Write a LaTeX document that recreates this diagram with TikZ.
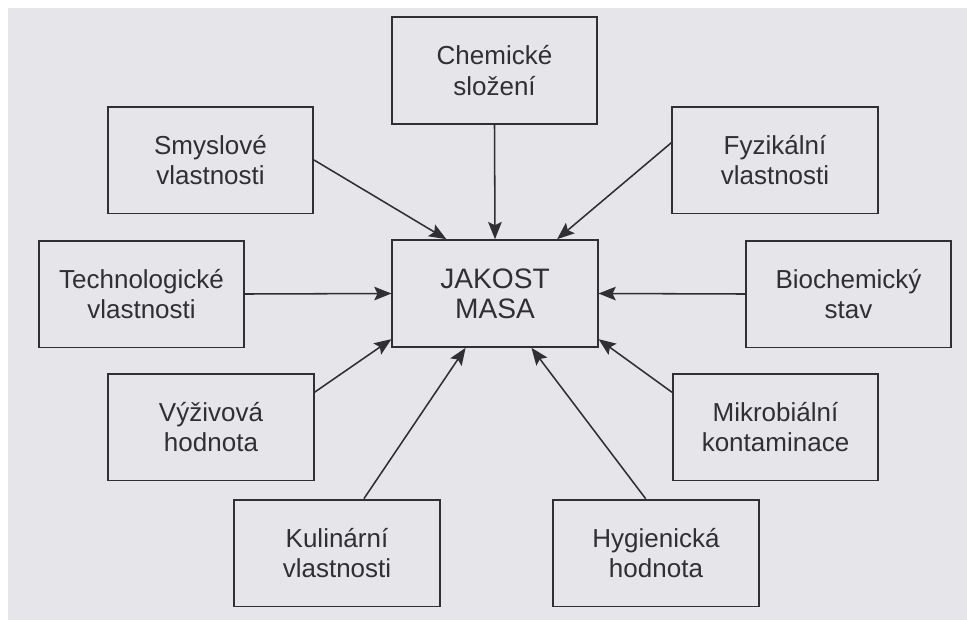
\documentclass[tikz,border=0pt]{standalone}
\usepackage{fontspec}
\setmainfont{Liberation Sans}
\usetikzlibrary{arrows.meta,calc}
\definecolor{paper}{RGB}{229,229,234}
\definecolor{ink}{RGB}{48,48,50}
\tikzset{
	box/.style={draw=ink, line width=1.3pt, minimum width=5.13cm, minimum height=2.67cm,
		inner sep=0pt, align=center, text=ink, font=\fontsize{18.5}{21.5}\selectfont},
	arr/.style={draw=ink, line width=1.1pt, -{Stealth[length=4.3mm,width=3.4mm,inset=0.8mm]}},
}
\begin{document}
\begin{tikzpicture}[x=0.025cm,y=-0.025cm]
	\useasboundingbox (0,0) rectangle (967,620);
	\fill [white] (0,0) rectangle (967,620);
	\fill [paper] (8,8) rectangle (967,620);
	% centre
	\node [box, font=\fontsize{20}{21.5}\selectfont] (jakost) at (495,293.5) {JAKOST\\MASA};
	% upper row
	\node [box] (chem) at (494.5,70.5) {Chemické\\složení};
	\node [box] (smysl) at (210.5,160) {Smyslové\\vlastnosti};
	\node [box] (fyz) at (775,160) {Fyzikální\\vlastnosti};
	% middle row
	\node [box] (tech) at (141.5,294) {Technologické\\vlastnosti};
	\node [box] (bio) at (848.5,294) {Biochemický\\stav};
	% lower rows
	\node [box] (vyz) at (211,427) {Výživová\\hodnota};
	\node [box] (mikro) at (775.5,427) {Mikrobiální\\kontaminace};
	\node [box] (kulin) at (337,553) {Kulinární\\vlastnosti};
	\node [box] (hyg) at (656,553) {Hygienická\\hodnota};
	% arrows into the centre
	\draw [arr] (chem.south) -- (jakost.north);
	\draw [arr] (smysl.east) -- ($(jakost.north west)!0.265!(jakost.north east)$);
	\draw [arr] ($(fyz.north west)!0.34!(fyz.south west)$) -- ($(jakost.north west)!0.8!(jakost.north east)$);
	\draw [arr] (tech.east) -- (jakost.west);
	\draw [arr] (bio.west) -- (jakost.east);
	\draw [arr] ($(vyz.north east)!0.18!(vyz.south east)$) -- ($(jakost.north west)!0.92!(jakost.south west)$);
	\draw [arr] ($(mikro.north west)!0.18!(mikro.south west)$) -- ($(jakost.north east)!0.92!(jakost.south east)$);
	\draw [arr] ($(kulin.north west)!0.63!(kulin.north east)$) -- ($(jakost.south west)!0.358!(jakost.south east)$);
	\draw [arr] ($(hyg.north west)!0.45!(hyg.north east)$) -- ($(jakost.south west)!0.676!(jakost.south east)$);
\end{tikzpicture}
\end{document}
